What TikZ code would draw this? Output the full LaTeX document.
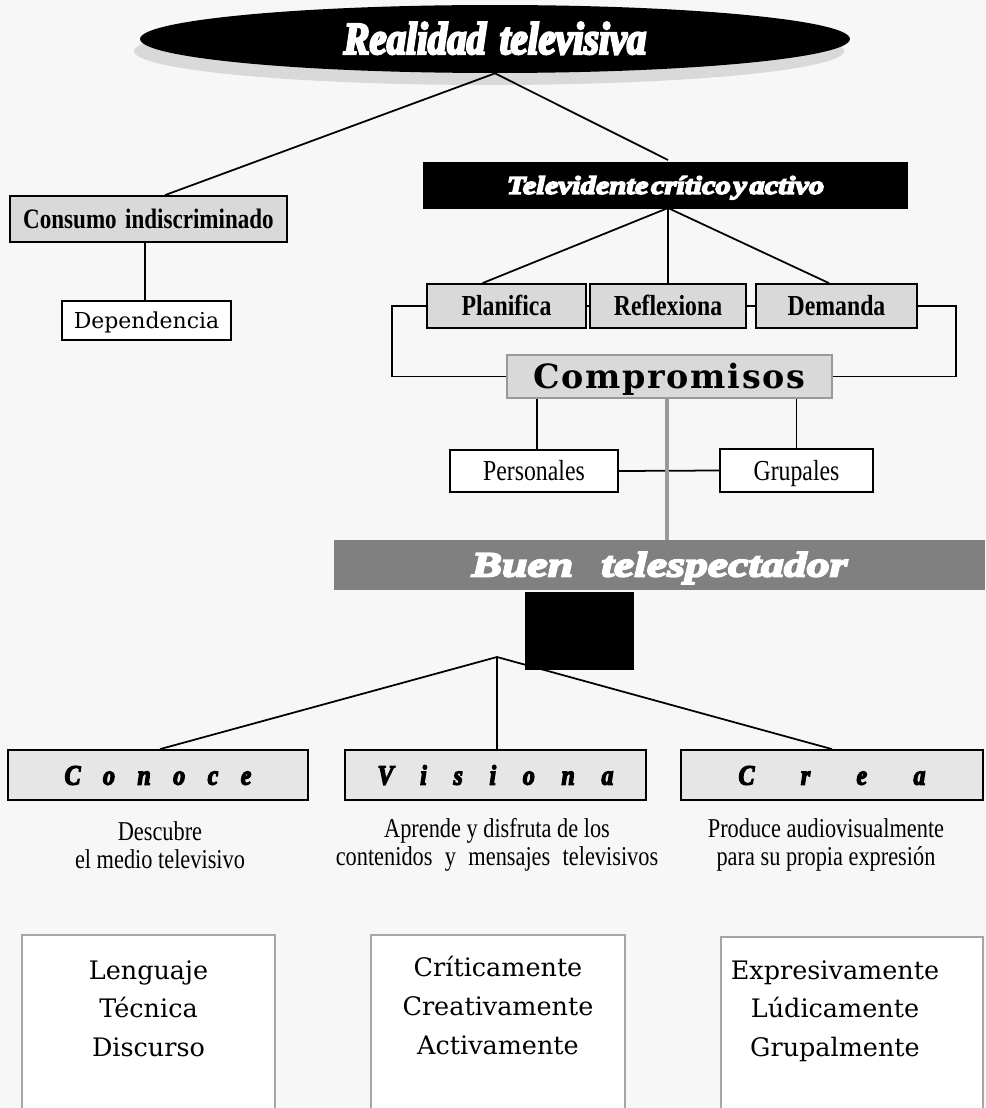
\documentclass[tikz,border=0pt]{standalone}
\usepackage{fontspec}
\setmainfont{Liberation Serif}
\newfontfamily\estrecha[FakeStretch=0.82]{Liberation Serif}
\newfontfamily\gruesa{Liberation Serif}
\newfontfamily\ancha{DejaVu Serif}
\usetikzlibrary{positioning,shapes.geometric}
\definecolor{fondo}{HTML}{F7F7F7}
\definecolor{grisclaro}{HTML}{D9D9D9}
\definecolor{grisfondo}{HTML}{E6E6E6}
\definecolor{grismedio}{HTML}{999999}
\definecolor{grisoscuro}{HTML}{808080}
\definecolor{borde}{HTML}{A6A6A6}
% trazo extra alrededor de las letras para los titulos gruesos
\newcommand{\pesado}[2][0.9]{\special{pdf:literal direct 2 Tr #1 w}#2\special{pdf:literal direct 0 Tr 1 w}}

\begin{document}
\begin{tikzpicture}[x=0.02cm,y=-0.02cm]
\tikzset{
  linea/.style={line width=1pt},
  caja/.style={draw, line width=1pt, inner sep=0pt, minimum height=0.88cm,
    text height=11pt, text depth=0pt},
  gris/.style={caja, fill=grisclaro},
  blanca/.style={caja, fill=white},
  verbo/.style={caja, fill=grisfondo, minimum width=6cm, minimum height=1cm, text height=11pt,
    font=\gruesa\bfseries\itshape\addfontfeatures{FakeStretch=0.85}\fontsize{16}{16}\selectfont},
  desc/.style={align=center, inner sep=0pt,
    font=\estrecha\fontsize{15.5}{16}\selectfont},
  lista/.style={draw=borde, line width=1pt, fill=white, anchor=north,
    minimum height=3.8cm, inner sep=0pt},
  listatexto/.style={align=center, inner sep=0pt,
    font=\ancha\fontsize{14.5}{22}\selectfont}
}
\useasboundingbox (0,0) rectangle (986,1108);
\fill[fondo] (0,0) rectangle (986,1108);
\clip (0,0) rectangle (986,1108);

% cabecera
\fill[grisclaro] (489,51) ellipse [x radius=355, y radius=34];
\node[ellipse, fill=black, inner sep=0pt, minimum width=14.2cm, minimum height=1.36cm,
  text=white, text height=17pt, text depth=0pt,
  font=\gruesa\bfseries\itshape\addfontfeatures{FakeStretch=0.85}\fontsize{26}{26}\selectfont]
  (realidad) at (495,39) {\pesado[1.3]{Realidad\hspace{0.3em}televisiva}};

% rama izquierda
\node[gris, minimum width=5.54cm, minimum height=0.92cm,
  font=\estrecha\bfseries\fontsize{16}{16}\selectfont]
  (consumo) at (148.5,219) {Consumo\hspace{0.3em}indiscriminado};
\node[blanca, minimum width=3.38cm, minimum height=0.78cm, text height=9pt,
  font=\ancha\fontsize{12.5}{12.5}\selectfont]
  (dependencia) at (146.5,320.5) {Dependencia};
\draw[linea] (realidad.south) -- ([xshift=0.33cm]consumo.north);
\draw[linea] ([xshift=-0.07cm]consumo.south) -- ([xshift=-0.07cm]consumo.south |- dependencia.north);

% rama derecha
\coordinate (tope) at (668,160);
\draw[linea] (realidad.south) -- (tope);
\node[caja, fill=black, minimum width=9.66cm, minimum height=0.9cm, text=white, text height=9.5pt,
  font=\gruesa\bfseries\itshape\addfontfeatures{FakeStretch=1.2}\fontsize{14.5}{14.5}\selectfont]
  (televidente) at (665.5,185.5) {\pesado{Televidente\hspace{0.1em}crítico\hspace{0.1em}y\hspace{0.1em}activo}};

\node[gris, minimum width=3.18cm, font=\estrecha\bfseries\fontsize{16.5}{16.5}\selectfont]
  (planifica) at (506.5,306) {Planifica};
\node[gris, minimum width=3.12cm, font=\estrecha\bfseries\fontsize{16.5}{16.5}\selectfont]
  (reflexiona) at (668,306) {Reflexiona};
\node[gris, minimum width=3.22cm, font=\estrecha\bfseries\fontsize{16.5}{16.5}\selectfont]
  (demanda) at (836.5,306) {Demanda};
\draw[linea] (668,208) -- ([xshift=-0.48cm]planifica.north);
\draw[linea] (668,208) -- (reflexiona.north);
\draw[linea] (668,208) -- ([xshift=-0.15cm]demanda.north);
\draw[linea] (planifica.east) -- (reflexiona.west);
\draw[linea] (reflexiona.east) -- (demanda.west);

\node[caja, draw=grismedio, fill=grisclaro, minimum width=6.5cm, minimum height=0.86cm, text height=14pt,
  font=\ancha\bfseries\addfontfeatures{LetterSpace=5}\fontsize{19}{19}\selectfont]
  (compromisos) at (669.5,376.5) {Compromisos};
\draw[linea] (planifica.west) -- ++(-34,0) |- (compromisos.west);
\draw[linea] (demanda.east) -- ++(38,0) |- (compromisos.east);

\node[blanca, minimum width=3.36cm, minimum height=0.84cm,
  font=\estrecha\fontsize{16.5}{16.5}\selectfont]
  (personales) at (534,471) {Personales};
\node[blanca, minimum width=3.06cm, minimum height=0.86cm,
  font=\estrecha\fontsize{16.5}{16.5}\selectfont]
  (grupales) at (796.5,470.5) {Grupales};
\draw[linea] ([xshift=0.06cm]personales.north) -- ([xshift=0.06cm]personales.north |- compromisos.south);
\draw[linea] (grupales.north) -- (grupales.north |- compromisos.south);
\draw[linea] (personales.east) -- (grupales.west);

% buen telespectador
\node[fill=grisoscuro, inner sep=0pt, minimum width=13.02cm, minimum height=1cm, text=white,
  text height=13pt, text depth=0pt,
  font=\gruesa\bfseries\itshape\addfontfeatures{FakeStretch=1.3}\fontsize{20}{20}\selectfont]
  (buen) at (659.5,565) {\pesado[1.1]{Buen\hspace{0.8em}telespectador}};
\draw[grismedio, line width=2.8pt] ([xshift=-0.05cm]compromisos.south) -- ([xshift=-0.05cm]compromisos.south |- buen.north);

% tres acciones
\node[verbo] (conoce) at (158,775) {\pesado[0.7]{\spaceskip=0.8em C o n o c e}};
\node[verbo, minimum width=6.02cm] (visiona) at (495.5,775) {\pesado[0.7]{\spaceskip=0.95em V i s i o n a}};
\node[verbo, minimum width=6.04cm] (crea) at (832,775) {\pesado[0.7]{\spaceskip=1.65em C r e a}};
\coordinate (rama) at (497,657);
\draw[linea] (rama) -- ([xshift=0.04cm]conoce.north);
\draw[linea] (rama) -- ([xshift=0.03cm]visiona.north);
\draw[linea] (rama) -- (crea.north);
\node[fill=black, inner sep=0pt, minimum width=2.18cm, minimum height=1.56cm] (pantalla) at (579.5,631) {};

\node[desc] (descubre) at (160,845) {Descubre\\el medio televisivo};
\node[desc] (aprende) at (497,845) {Aprende y disfruta de los\\contenidos\hspace{0.25em} y\hspace{0.25em} mensajes\hspace{0.25em} televisivos};
\node[desc] (produce) at (826,845) {Produce audiovisualmente\\para su propia expresión};

% cuadros inferiores
\node[lista, minimum width=5.06cm] (cajaA) at (148.5,934) {};
\node[lista, minimum width=5.08cm] (cajaB) at (498,934) {};
\node[lista, minimum width=5.24cm] (cajaC) at (852,936) {};
\node[listatexto, anchor=north, below=0.52cm of cajaA.north] (listaA) {Lenguaje\\Técnica\\Discurso};
\node[listatexto, anchor=north, below=0.44cm of cajaB.north] (listaB) {Críticamente\\Creativamente\\Activamente};
\node[listatexto, anchor=north, below=0.48cm of cajaC.north, xshift=-0.34cm] (listaC) {Expresivamente\\Lúdicamente\\Grupalmente};
\end{tikzpicture}
\end{document}
